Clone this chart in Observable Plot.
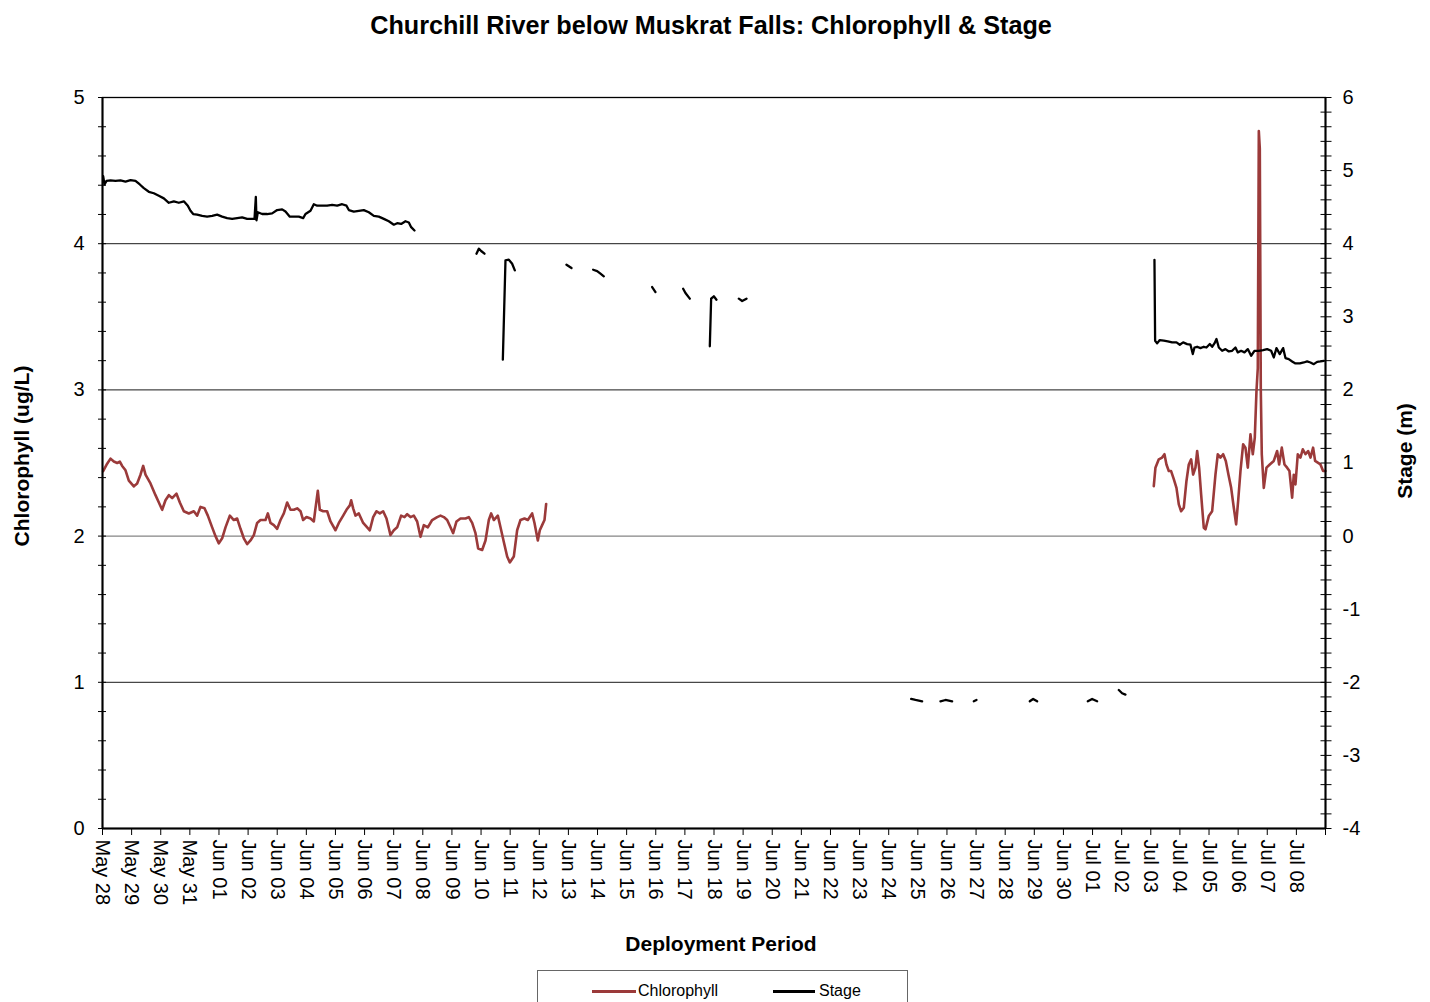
<!DOCTYPE html>
<html>
<head>
<meta charset="utf-8">
<script src="https://cdn.jsdelivr.net/npm/d3@7"></script>
<script src="https://cdn.jsdelivr.net/npm/@observablehq/plot@0.6"></script>
<style>
  body { margin: 0; background: #fff; overflow: hidden; font-family: "Liberation Sans", Arial, sans-serif; }
  #wrap { position: relative; width: 1430px; height: 1002px; }
  #title { position: absolute; left: 0; top: 8px; width: 1422px; text-align: center; font-weight: bold; font-size: 25.2px; line-height: 34px; color: #000; }
  #chart { position: absolute; left: 0; top: 0; }
  #legend { position: absolute; left: 537px; top: 970px; width: 371px; height: 50px; border: 1px solid #666; box-sizing: border-box; background: #fff; }
  .sw { position: absolute; height: 2.6px; top: 19px; }
  .lt { position: absolute; top: 10px; font-size: 16px; line-height: 20px; color: #000; }
</style>
</head>
<body>
<div id="wrap">
  <div id="chart"></div>
  <div id="title">Churchill River below Muskrat Falls: Chlorophyll &amp; Stage</div>
  <div id="legend">
    <div class="sw" style="left:54px;width:44px;background:#9b3a3a"></div>
    <div class="lt" style="left:100px">Chlorophyll</div>
    <div class="sw" style="left:235px;width:42px;background:#000"></div>
    <div class="lt" style="left:281px">Stage</div>
  </div>
</div>
<script>
// Days since May 28 00:00 (null = gap in the record)
const chlDay = [
  0.023,0.16,0.275,0.389,0.504,0.595,0.675,0.79,0.904,1.076,1.19,1.305,1.397,1.477,1.648,1.82,1.935,2.049,2.163,2.278,
  2.392,2.541,2.656,2.793,2.965,3.136,3.251,3.365,3.503,3.617,3.766,3.88,3.995,4.109,4.224,4.373,4.51,4.625,4.739,4.853,
  4.968,5.082,5.197,5.311,5.426,5.598,5.678,5.769,5.884,5.998,6.113,6.227,6.342,6.456,6.571,6.685,6.8,6.891,7.005,7.143,
  7.257,7.314,7.395,7.463,7.578,7.715,7.83,8.001,8.116,8.265,8.379,8.494,8.54,8.608,8.688,8.803,8.952,9.089,9.18,9.295,
  9.409,9.524,9.638,9.753,9.89,10.005,10.119,10.256,10.371,10.463,10.577,10.691,10.806,10.92,11.035,11.172,11.321,11.493,11.607,11.722,
  11.836,11.951,12.042,12.157,12.294,12.466,12.58,12.695,12.809,12.901,13.038,13.153,13.267,13.347,13.439,13.576,13.668,13.782,13.897,13.988,
  14.125,14.24,14.354,14.492,14.606,14.755,14.835,14.95,15.018,15.098,15.179,15.236,
  null,
  36.103,36.16,36.275,36.39,36.47,36.538,36.618,36.698,36.79,36.882,36.962,37.042,37.134,37.225,37.305,37.386,37.454,37.534,37.592,37.66,
  37.729,37.82,37.878,37.992,38.107,38.221,38.301,38.393,38.485,38.576,38.668,38.76,38.851,38.931,39.0,39.08,39.171,39.251,39.332,39.423,
  39.503,39.572,39.629,39.675,39.71,39.744,39.778,39.812,39.881,39.973,40.087,40.224,40.339,40.408,40.499,40.591,40.682,40.762,40.854,40.911,
  40.968,41.048,41.14,41.22,41.312,41.403,41.484,41.575,41.644,41.735,41.827,41.918,41.998
];
// Chlorophyll (ug/L)
const chlValue = [
  2.445,2.495,2.53,2.51,2.50,2.51,2.48,2.45,2.38,2.34,2.36,2.42,2.48,2.42,2.36,2.28,2.23,2.18,2.245,2.28,
  2.26,2.29,2.23,2.17,2.155,2.17,2.14,2.20,2.19,2.14,2.06,2.0,1.95,1.985,2.06,2.14,2.11,2.12,2.05,1.985,
  1.945,1.97,2.007,2.09,2.11,2.11,2.155,2.09,2.075,2.05,2.11,2.155,2.23,2.18,2.18,2.19,2.17,2.11,2.13,2.12,
  2.10,2.19,2.31,2.18,2.17,2.17,2.10,2.04,2.09,2.14,2.18,2.21,2.245,2.19,2.14,2.155,2.09,2.06,2.04,2.13,
  2.17,2.155,2.17,2.12,2.007,2.04,2.06,2.14,2.13,2.15,2.13,2.14,2.10,1.995,2.075,2.06,2.11,2.13,2.14,2.13,
  2.11,2.06,2.02,2.10,2.12,2.12,2.13,2.09,2.02,1.915,1.905,1.97,2.11,2.155,2.11,2.14,2.06,1.96,1.86,1.82,
  1.86,2.04,2.11,2.12,2.11,2.155,2.09,1.97,2.04,2.075,2.11,2.22,
  null,
  2.342,2.468,2.525,2.537,2.56,2.49,2.445,2.445,2.39,2.33,2.217,2.17,2.194,2.377,2.49,2.525,2.42,2.468,2.582,2.468,
  2.285,2.057,2.046,2.137,2.17,2.42,2.56,2.537,2.56,2.514,2.42,2.33,2.194,2.08,2.24,2.445,2.628,2.605,2.468,2.696,
  2.56,2.674,2.99,3.15,4.77,4.65,3.0,2.56,2.33,2.468,2.49,2.514,2.582,2.49,2.605,2.49,2.468,2.445,2.263,2.42,
  2.354,2.56,2.537,2.594,2.56,2.582,2.537,2.605,2.514,2.502,2.49,2.445,2.445
];
// Stage (m): days since May 28 00:00 (null = gap)
const stageDay = [
  0.023,0.069,0.137,0.275,0.446,0.618,0.79,0.962,1.133,1.282,1.419,1.591,1.763,1.934,2.106,2.278,2.45,2.621,2.793,2.93,
  3.022,3.114,3.251,3.423,3.594,3.766,3.938,4.109,4.281,4.453,4.625,4.796,4.968,5.14,5.22,5.266,5.288,5.334,5.483,5.655,
  5.826,5.998,6.17,6.284,6.433,6.571,6.742,6.891,6.971,7.143,7.257,7.372,7.543,7.715,7.887,8.059,8.23,8.379,8.459,8.631,
  8.803,8.974,9.146,9.318,9.489,9.661,9.833,10.005,10.119,10.256,10.405,10.52,10.6,10.714,
  null, 12.843,12.923,13.003,13.118,
  null, 13.748,13.839,13.954,14.068,14.16,
  null, 15.934,16.106,
  null, 16.85,16.987,17.101,17.216,
  null, 18.876,18.99,
  null, 19.94,20.02,20.169,
  null, 20.856,20.902,20.994,21.085,
  null, 21.852,21.967,22.115,
  null, 27.77,27.919,28.148,
  null, 28.777,28.949,29.178,
  null, 29.922,30.014,
  null, 31.845,31.96,32.097,
  null, 33.837,33.985,34.157,
  null, 34.902,35.016,35.13,
  null,
  36.126,36.149,36.218,36.309,36.447,36.584,36.733,36.882,36.996,37.111,37.248,37.363,37.443,37.5,37.592,37.706,37.82,37.912,38.027,38.107,
  38.187,38.256,38.336,38.45,38.565,38.679,38.794,38.908,38.988,39.102,39.217,39.332,39.446,39.56,39.71,39.858,39.996,40.133,40.224,40.316,
  40.43,40.545,40.625,40.739,40.854,40.968,41.117,41.255,41.369,41.484,41.598,41.713,41.827,41.941
];
const stageValue = [
  4.925,4.81,4.86,4.867,4.86,4.867,4.85,4.87,4.86,4.81,4.76,4.71,4.69,4.655,4.62,4.56,4.58,4.56,4.58,4.52,
  4.45,4.406,4.397,4.38,4.37,4.38,4.397,4.37,4.35,4.34,4.35,4.36,4.34,4.34,4.34,4.64,4.32,4.43,4.406,4.406,
  4.415,4.46,4.47,4.44,4.37,4.37,4.37,4.35,4.406,4.45,4.54,4.52,4.52,4.52,4.53,4.52,4.54,4.52,4.46,4.44,
  4.45,4.46,4.43,4.38,4.37,4.34,4.307,4.26,4.28,4.27,4.307,4.29,4.226,4.18,
  null, 3.863,3.932,3.9,3.863,
  null, 2.413,3.772,3.781,3.726,3.635,
  null, 3.713,3.667,
  null, 3.644,3.626,3.59,3.553,
  null, 3.407,3.339,
  null, 3.384,3.325,3.248,
  null, 2.596,3.248,3.28,3.234,
  null, 3.248,3.216,3.248,
  null, -2.228,-2.242,-2.26,
  null, -2.26,-2.242,-2.26,
  null, -2.26,-2.242,
  null, -2.26,-2.228,-2.26,
  null, -2.26,-2.228,-2.26,
  null, -2.105,-2.15,-2.169,
  null,
  3.78,2.673,2.636,2.682,2.673,2.664,2.65,2.65,2.618,2.65,2.627,2.618,2.49,2.58,2.59,2.572,2.59,2.58,2.627,2.59,
  2.636,2.696,2.58,2.535,2.558,2.526,2.535,2.58,2.513,2.535,2.513,2.558,2.467,2.535,2.535,2.545,2.558,2.535,2.444,2.572,
  2.49,2.572,2.435,2.421,2.389,2.362,2.362,2.375,2.389,2.375,2.352,2.384,2.389,2.398
];
const startDate = "2019-05-28";
const endDate = "2019-07-09";
const chlTicks = [0,1,2,3,4,5];
const stageTicks = [-4,-3,-2,-1,0,1,2,3,4,5,6];
const gridValues = [1,3,4];
const zeroStageGrid = [2];

const t0 = new Date(startDate + "T00:00:00Z");
const t1 = new Date(endDate + "T00:00:00Z");
const toDate = d => d == null ? null : new Date(+t0 + d * 864e5);
const chl = chlDay.map((d, i) => ({t: toDate(d), v: chlValue[i]}));
const stage = stageDay.map((d, i) => ({t: toDate(d), v: stageValue[i] == null ? null : (stageValue[i] + 4) / 2}));

const allDays = d3.utcDay.range(t0, d3.utcDay.offset(t1, 1));
const labelDays = d3.utcDay.range(t0, t1);
const minorLeft = d3.range(0, 26).map(i => i / 5);
const minorRight = d3.range(0, 51).map(i => i / 10);
const fmt = d3.utcFormat("%b %d");

const plot = Plot.plot({
  width: 1430,
  height: 965,
  marginTop: 97,
  marginBottom: 137,
  marginLeft: 102,
  marginRight: 105,
  style: {fontFamily: "'Liberation Sans', Arial, sans-serif", fontSize: "20px", color: "#000", background: "#fff"},
  x: {type: "utc", domain: [t0, t1], axis: null},
  y: {domain: [0, 5], axis: null},
  marks: [
    Plot.ruleY(gridValues, {stroke: "#1a1a1a", strokeWidth: 1}),
    Plot.ruleY(zeroStageGrid, {stroke: "#858585", strokeWidth: 1.2}),
    Plot.line(chl, {x: "t", y: "v", stroke: "#9b3a3a", strokeWidth: 2.6, strokeLinejoin: "round"}),
    Plot.line(stage, {x: "t", y: "v", stroke: "#000", strokeWidth: 2.3, strokeLinejoin: "round"}),
    Plot.frame({stroke: "#000", strokeWidth: 1.3}),
    Plot.ruleX([t0, t1], {stroke: "#000", strokeWidth: 2}),
    Plot.ruleY([0], {stroke: "#000", strokeWidth: 2}),
    // left axis: crossing ticks + labels
    Plot.axisY({anchor: "left", ticks: minorLeft, tickSize: 8, dx: 4, tickFormat: () => "", label: null}),
    Plot.axisY({anchor: "left", ticks: chlTicks, tickSize: 0, tickPadding: 18, tickFormat: d => String(d), fontSize: 20, label: null}),
    // right axis (stage), mapped onto chlorophyll positions
    Plot.axisY({anchor: "right", ticks: minorRight, tickSize: 11, dx: -5.5, tickFormat: () => "", label: null}),
    Plot.axisY({anchor: "right", ticks: stageTicks.map(s => (s + 4) / 2), tickSize: 0, tickPadding: 17, tickFormat: d => String(Math.round(d * 2 - 4)), fontSize: 20, label: null}),
    // x axis
    Plot.axisX({anchor: "bottom", ticks: allDays, tickSize: 7, tickFormat: () => "", label: null}),
    Plot.axisX({anchor: "bottom", ticks: labelDays, tickSize: 0, tickPadding: 11, tickRotate: 90, tickFormat: fmt, fontSize: 20, label: null}),
    // axis titles
    Plot.text(["Deployment Period"], {text: d => d, frameAnchor: "bottom", textAnchor: "middle", dx: 7, dy: 122, fontWeight: "bold", fontSize: 21}),
    Plot.text(["Chlorophyll (ug/L)"], {text: d => d, frameAnchor: "left", textAnchor: "middle", dx: -80, dy: -7, rotate: -90, fontWeight: "bold", fontSize: 21}),
    Plot.text(["Stage (m)"], {text: d => d, frameAnchor: "right", textAnchor: "middle", dx: 80, dy: -12, rotate: -90, fontWeight: "bold", fontSize: 21})
  ]
});
document.getElementById("chart").appendChild(plot);
</script>
</body>
</html>
